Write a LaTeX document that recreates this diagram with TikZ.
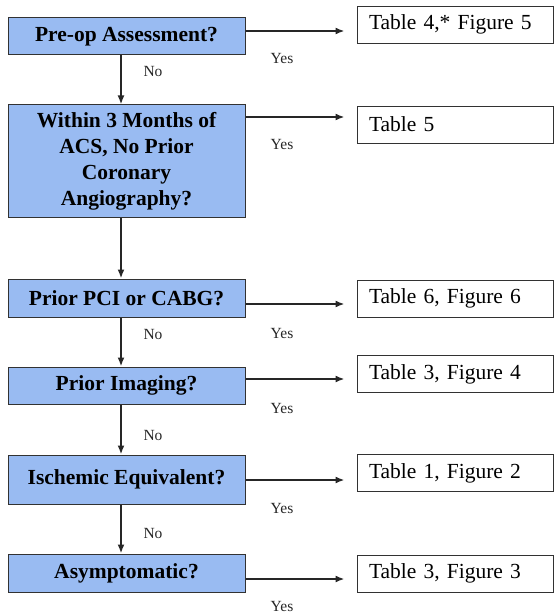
\documentclass[tikz,border=0pt]{standalone}
\usepackage{fontspec}
\setmainfont{Liberation Serif}
\usetikzlibrary{arrows.meta}
\definecolor{qfill}{RGB}{153,187,242}
\definecolor{edge}{RGB}{50,50,50}
\begin{document}
\begin{tikzpicture}[x=1pt,y=-1pt,
  qbox/.style={draw=edge, fill=qfill, line width=1pt, inner sep=0pt,
    minimum width=237pt, font=\fontsize{21.5}{26}\selectfont\bfseries, align=center},
  tbox/.style={draw=edge, fill=white, line width=0.9pt, inner xsep=12pt, inner ysep=0pt,
    minimum height=37pt, text width=172pt, align=left, font=\fontsize{21.5}{26}\selectfont},
  lbl/.style={font=\fontsize{15.5}{18}\selectfont, inner sep=0pt, text=black!85},
  arr/.style={line width=1.8pt, draw=black!85, -{Latex[length=9pt,width=7pt]}}]
\useasboundingbox (0,0) rectangle (554,615);

% question boxes
\node[qbox, minimum height=37pt] (b1) at (126.5,36.5) {Pre-op Assessment?};
\node[qbox, minimum height=112pt] (b2) at (126.5,161) {Within 3 Months of\\ACS, No Prior\\Coronary\\Angiography?};
\node[qbox, minimum height=38pt] (b3) at (126.5,298) {Prior PCI or CABG?};
\node[qbox, minimum height=37pt] (b4) at (126.5,385.5) {Prior Imaging?};
\node[qbox, minimum height=49pt] (b5) at (126.5,479.5) {Ischemic Equivalent?};
\node[qbox, minimum height=38pt] (b6) at (126.5,573) {Asymptomatic?};

% result boxes
\node[tbox] (r1) at (455,24.5) {Table 4,* Figure 5};
\node[tbox] (r2) at (455,124.5) {Table 5};
\node[tbox] (r3) at (455,298.5) {Table 6, Figure 6};
\node[tbox] (r4) at (455,374) {Table 3, Figure 4};
\node[tbox] (r5) at (455,473) {Table 1, Figure 2};
\node[tbox, minimum height=37pt] (r6) at (455,573.5) {Table 3, Figure 3};

% yes arrows
\draw[arr, shorten >=12pt] (b1.east |- 0,31) -- (r1.west |- 0,31);
\draw[arr, shorten >=12pt] (b2.east |- 0,117) -- (r2.west |- 0,117);
\draw[arr, shorten >=12pt] (b3.east |- 0,304) -- (r3.west |- 0,304);
\draw[arr, shorten >=12pt] (b4.east |- 0,379) -- (r4.west |- 0,379);
\draw[arr, shorten >=12pt] (b5.east |- 0,480) -- (r5.west |- 0,480);
\draw[arr, shorten >=12pt] (b6.east |- 0,579) -- (r6.west |- 0,579);

% no arrows
\draw[arr] ([xshift=-5.5pt]b1.south) -- ([xshift=-5.5pt]b2.north);
\draw[arr] ([xshift=-5.5pt]b2.south) -- ([xshift=-5.5pt]b3.north);
\draw[arr] ([xshift=-5.5pt]b3.south) -- ([xshift=-5.5pt]b4.north);
\draw[arr] ([xshift=-5.5pt]b4.south) -- ([xshift=-5.5pt]b5.north);
\draw[arr] ([xshift=-5.5pt]b5.south) -- ([xshift=-5.5pt]b6.north);

% labels
\node[lbl] (y1) at (282,59) {Yes};
\node[lbl] (y2) at (282,145) {Yes};
\node[lbl] (y3) at (282,333) {Yes};
\node[lbl] (y4) at (282,408) {Yes};
\node[lbl] (y5) at (282,508) {Yes};
\node[lbl] (y6) at (282,606) {Yes};
\node[lbl] (n1) at (153,72) {No};
\node[lbl] (n3) at (153,334) {No};
\node[lbl] (n4) at (153,435) {No};
\node[lbl] (n5) at (153,533) {No};
\end{tikzpicture}
\end{document}
